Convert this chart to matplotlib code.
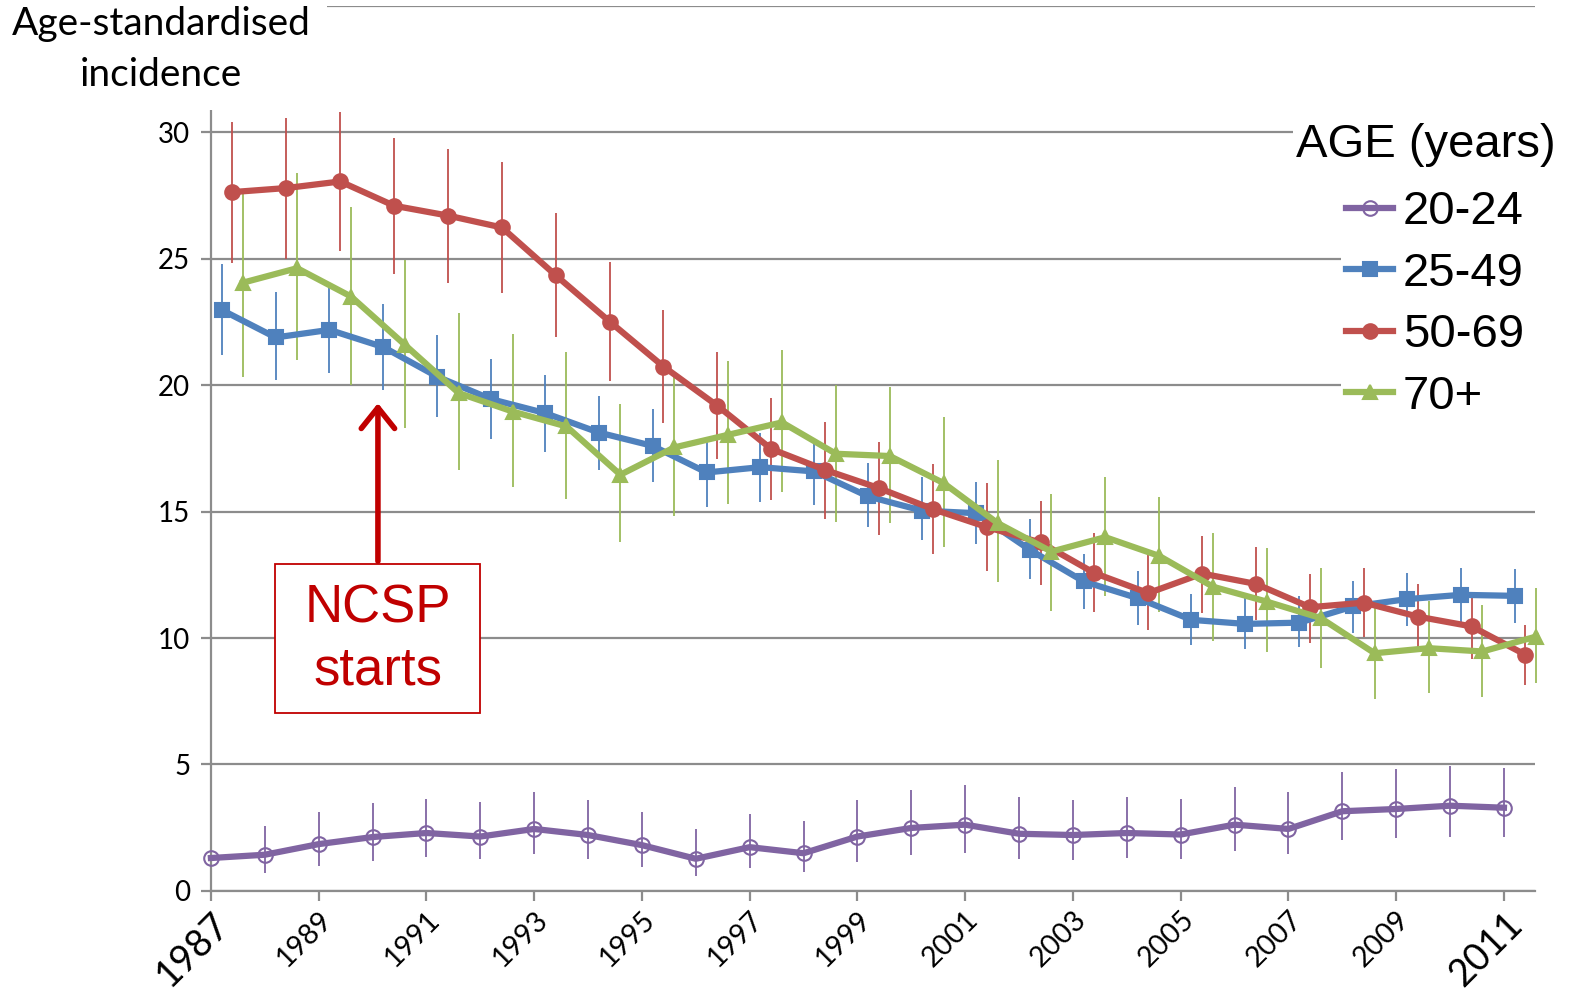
import matplotlib
matplotlib.use('Agg')
import matplotlib.pyplot as plt
import numpy as np
from matplotlib.patches import Rectangle, FancyArrowPatch

years = np.arange(1987, 2012)

# 20-24
age2024 = [1.30, 1.43, 1.85, 2.13, 2.29, 2.15, 2.45, 2.21, 1.81, 1.27, 1.73, 1.49, 2.15,
           2.49, 2.62, 2.26, 2.21, 2.29, 2.23, 2.62, 2.45, 3.15, 3.24, 3.37, 3.29]
age2024_lo = [0.57, 0.70, 1.00, 1.20, 1.34, 1.26, 1.44, 1.26, 0.96, 0.57, 0.90, 0.73, 1.16,
              1.40, 1.50, 1.26, 1.23, 1.31, 1.28, 1.59, 1.47, 2.00, 2.08, 2.15, 2.13]
age2024_hi = [2.39, 2.58, 3.11, 3.48, 3.64, 3.53, 3.90, 3.58, 3.11, 2.45, 3.06, 2.77, 3.58,
              4.01, 4.17, 3.72, 3.61, 3.72, 3.64, 4.11, 3.93, 4.72, 4.83, 4.93, 4.85]

# 25-49
age2549 = [22.98, 21.89, 22.19, 21.51, 20.34, 19.45, 18.90, 18.13, 17.60, 16.55, 16.76, 16.59, 15.60,
           15.04, 14.94, 13.49, 12.24, 11.58, 10.72, 10.56, 10.61, 11.25, 11.54, 11.71, 11.67]
age2549_lo = [21.20, 20.19, 20.48, 19.82, 18.76, 17.87, 17.34, 16.65, 16.17, 15.20, 15.40, 15.27, 14.38,
              13.88, 13.73, 12.33, 11.14, 10.52, 9.73, 9.56, 9.66, 10.19, 10.46, 10.61, 10.59]
age2549_hi = [24.80, 23.67, 23.84, 23.22, 21.99, 21.03, 20.41, 19.58, 19.05, 17.84, 18.13, 17.71, 16.94,
              16.39, 16.19, 14.70, 13.33, 12.67, 11.75, 11.58, 11.67, 12.27, 12.57, 12.77, 12.73]

# 50-69
age5069 = [27.64, 27.80, 28.06, 27.10, 26.71, 26.24, 24.35, 22.52, 20.74, 19.19, 17.48, 16.65, 15.93,
           15.10, 14.39, 13.78, 12.57, 11.78, 12.55, 12.14, 11.22, 11.40, 10.85, 10.46, 9.34]
age5069_lo = [24.85, 25.00, 25.29, 24.41, 24.04, 23.64, 21.90, 20.15, 18.50, 17.08, 15.47, 14.70, 14.08,
              13.33, 12.67, 12.10, 11.02, 10.32, 11.00, 10.72, 9.80, 10.04, 9.60, 9.17, 8.15]
age5069_hi = [30.42, 30.57, 30.81, 29.77, 29.35, 28.84, 26.83, 24.87, 22.97, 21.33, 19.49, 18.56, 17.77,
              16.89, 16.13, 15.43, 14.15, 13.29, 14.03, 13.60, 12.54, 12.77, 12.14, 11.62, 10.52]

# 70+
age70 = [24.06, 24.63, 23.51, 21.60, 19.69, 18.96, 18.37, 16.46, 17.54, 18.04, 18.53, 17.29, 17.20,
         16.13, 14.55, 13.42, 13.99, 13.25, 12.03, 11.44, 10.79, 9.40, 9.60, 9.47, 10.06]
age70_lo = [20.34, 20.98, 19.99, 18.30, 16.65, 15.99, 15.49, 13.78, 14.81, 15.31, 15.76, 14.61, 14.56,
            13.62, 12.20, 11.09, 11.67, 11.02, 9.90, 9.43, 8.81, 7.58, 7.82, 7.66, 8.24]
age70_hi = [27.60, 28.39, 27.05, 24.96, 22.85, 22.02, 21.33, 19.25, 20.34, 20.94, 21.40, 20.02, 19.92,
            18.74, 17.05, 15.70, 16.39, 15.57, 14.17, 13.56, 12.77, 11.18, 11.48, 11.31, 11.97]

labels = ['20-24', '25-49', '50-69', '70+']
colors = ['#8064A2', '#4F81BD', '#C0504D', '#9BBB59']
markers = ['o', 's', 'o', '^']
offsets = [0.0, 0.2, 0.4, 0.6]
series = [(age2024, age2024_lo, age2024_hi),
          (age2549, age2549_lo, age2549_hi),
          (age5069, age5069_lo, age5069_hi),
          (age70, age70_lo, age70_hi)]

tick_years = list(range(1987, 2012, 2))

plt.rcParams['font.family'] = ['Lato', 'DejaVu Sans']

fig = plt.figure(figsize=(15.74, 10.01), dpi=100)
ax = fig.add_axes([0.134, 0.110, 0.841, 0.884])

handles = []
for (vals, lo, hi), lab, c, m, off in zip(series, labels, colors, markers, offsets):
    x = years + off
    v = np.array(vals)
    err = [v - np.array(lo), np.array(hi) - v]
    ax.errorbar(x, v, yerr=err, fmt='none', ecolor=c, elinewidth=1.3, capsize=0,
                clip_on=False, zorder=2)
    ms = 10.5 if m != 's' else 9.5
    h, = ax.plot(x, v, color=c, lw=4.5, marker=m, ms=ms, mfc='none' if lab == '20-24' else c,
                 mec=c, mew=1.5, clip_on=False, zorder=3, label=lab)
    handles.append(h)

ax.set_xlim(1987, 2011.57)
ax.set_ylim(0, 35)
ax.set_yticks([0, 5, 10, 15, 20, 25, 30, 35])
ax.set_yticklabels(['0', '5', '10', '15', '20', '25', '30', ''])
ax.yaxis.grid(True, color='#8C8C8C', lw=1.6)
ax.set_axisbelow(True)
for s in ['top', 'right']:
    ax.spines[s].set_visible(False)
for s in ['left', 'bottom']:
    ax.spines[s].set_color('#8C8C8C')
    ax.spines[s].set_linewidth(1.6)
ax.tick_params(axis='y', length=7, width=1.6, color='#8C8C8C', labelsize=20, pad=8)
ax.tick_params(axis='x', length=7, width=1.6, color='#8C8C8C', labelsize=20.5, pad=4)

ax.set_xticks(tick_years)
ax.set_xticklabels([str(y) for y in tick_years], rotation=45, ha='right',
                   va='top', rotation_mode='anchor')
xl = ax.get_xticklabels()
xl[0].set_fontsize(27)
xl[-1].set_fontsize(27)

# legend (expanded so its white box hides the gridlines on the right)
leg = ax.legend(handles=handles, loc='upper left', bbox_to_anchor=(0.854, 0.797, 0.17, 0.0),
                mode='expand', frameon=True, framealpha=1, edgecolor='none',
                facecolor='white', handlelength=1.0, handletextpad=0.2,
                labelspacing=0.37, borderpad=0.1, borderaxespad=0,
                prop={'family': ['Liberation Sans'], 'size': 34})
fig.text(0.8235, 0.855, 'AGE (years)', fontsize=34, family=['Liberation Sans'],
         ha='left', va='center',
         bbox=dict(facecolor='white', edgecolor='none', pad=2))

# y label block
fig.text(0.1025, 0.976, 'Age-standardised', fontsize=28, ha='center', va='center',
         bbox=dict(facecolor='white', edgecolor='none', pad=12))
fig.text(0.1025, 0.925, 'incidence', fontsize=28, ha='center', va='center',
         bbox=dict(facecolor='white', edgecolor='none', pad=12))

# NCSP annotation
ax.add_patch(Rectangle((1988.19, 7.04), 3.81, 5.89, facecolor='white',
                       edgecolor='#C00000', lw=1.3, zorder=5))
ax.text(1990.1, 9.95, 'NCSP\nstarts', color='#C00000', fontsize=38,
        family=['Liberation Sans'], ha='center', va='center', linespacing=1.3, zorder=6)
ax.add_patch(FancyArrowPatch((1990.1, 12.93), (1990.1, 19.4),
                             arrowstyle='->,head_length=0.5,head_width=0.4',
                             mutation_scale=30, color='#C00000', lw=4, zorder=6))

fig.savefig('out.png', dpi=100)
